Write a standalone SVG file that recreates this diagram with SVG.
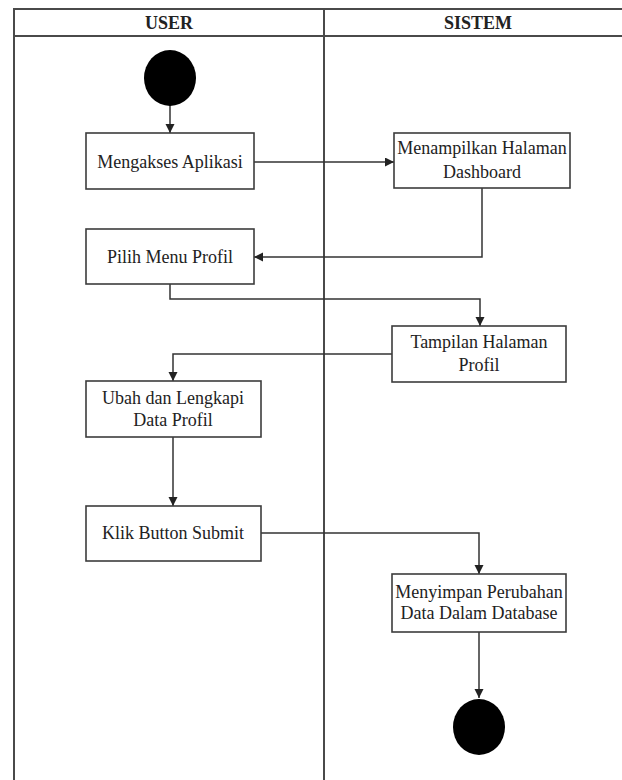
<svg xmlns="http://www.w3.org/2000/svg" width="622" height="780" viewBox="0 0 622 780">
<style>
.lane{stroke:#4a4a4a;stroke-width:2;fill:none}
.box{fill:#fff;stroke:#3c3c3c;stroke-width:1.6}
.t{font-family:"Liberation Serif","Times New Roman",serif;font-size:18px;fill:#222;text-anchor:middle}
.h{font-family:"Liberation Serif","Times New Roman",serif;font-size:18px;font-weight:bold;fill:#222;text-anchor:middle}
.c{stroke:#333;stroke-width:1.5;fill:none;marker-end:url(#ah)}
</style>
<defs>
<marker id="ah" markerUnits="userSpaceOnUse" markerWidth="10" markerHeight="10" refX="9" refY="4.5" orient="auto">
<path d="M0,0 L9,4.5 L0,9 z" fill="#222"/>
</marker>
</defs>
<rect width="622" height="780" fill="#fff"/>
<g id="swimlanes">
<path class="lane" d="M14,780 V9 H622 M14,36 H622 M324,9 V780"/>
<text class="h" x="169" y="29">USER</text>
<text class="h" x="478" y="29">SISTEM</text>
</g>
<g id="connectors">
<path class="c" d="M170,105 V133"/>
<path class="c" d="M254,162 H394"/>
<path class="c" d="M482,188 V257 H254"/>
<path class="c" d="M170,284 V299 H480 V326"/>
<path class="c" d="M392,354 H173 V381"/>
<path class="c" d="M173,437 V506"/>
<path class="c" d="M261,533 H479 V574"/>
<path class="c" d="M479,632 V698"/>
</g>
<g id="start"><ellipse cx="170" cy="78" rx="26" ry="28" fill="#000"/></g>
<g id="n1"><rect class="box" x="86" y="133" width="168" height="56"/><text class="t" x="170" y="168">Mengakses Aplikasi</text></g>
<g id="n2"><rect class="box" x="394" y="133" width="176" height="55"/><text class="t" x="482" y="154">Menampilkan Halaman</text><text class="t" x="482" y="178">Dashboard</text></g>
<g id="n3"><rect class="box" x="86" y="229" width="168" height="55"/><text class="t" x="170" y="263">Pilih Menu Profil</text></g>
<g id="n4"><rect class="box" x="392" y="326" width="174" height="56"/><text class="t" x="479" y="348">Tampilan Halaman</text><text class="t" x="479" y="371">Profil</text></g>
<g id="n5"><rect class="box" x="86" y="381" width="175" height="56"/><text class="t" x="173" y="404">Ubah dan Lengkapi</text><text class="t" x="173" y="426">Data Profil</text></g>
<g id="n6"><rect class="box" x="86" y="506" width="175" height="55"/><text class="t" x="173" y="539">Klik Button Submit</text></g>
<g id="n7"><rect class="box" x="392" y="574" width="174" height="58"/><text class="t" x="479" y="598">Menyimpan Perubahan</text><text class="t" x="479" y="619">Data Dalam Database</text></g>
<g id="end"><ellipse cx="479" cy="727" rx="26" ry="28" fill="#000"/></g>
</svg>
